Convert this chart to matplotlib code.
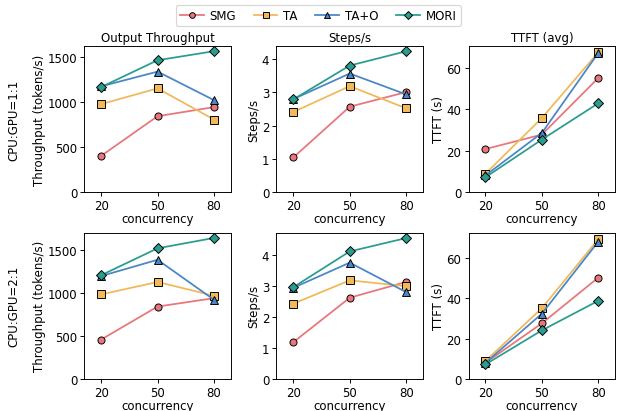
import matplotlib
matplotlib.use("Agg")
import matplotlib.pyplot as plt

concurrency = [20, 50, 80]
methods = ["SMG", "TA", "TA+O", "MORI"]
colors = ["#e8767a", "#f0b95a", "#4a86c8", "#2a9d8f"]
markers = ["o", "s", "^", "D"]

row_labels = ["CPU:GPU=1:1", "CPU:GPU=2:1"]
col_titles = ["Output Throughput", "Steps/s", "TTFT (avg)"]
y_labels = ["Throughput (tokens/s)", "Steps/s", "TTFT (s)"]

# row 1: CPU:GPU=1:1
thr_11 = {"SMG": [400, 839, 940], "TA": [973, 1147, 802],
          "TA+O": [1170, 1333, 1017], "MORI": [1162, 1459, 1559]}
steps_11 = {"SMG": [1.04, 2.57, 3.01], "TA": [2.41, 3.19, 2.52],
            "TA+O": [2.80, 3.57, 2.94], "MORI": [2.79, 3.81, 4.24]}
ttft_11 = {"SMG": [20.7, 27.7, 55.0], "TA": [8.8, 35.7, 67.4],
           "TA+O": [8.0, 28.5, 67.1], "MORI": [7.1, 25.3, 42.8]}

# row 2: CPU:GPU=2:1
thr_21 = {"SMG": [459, 844, 942], "TA": [986, 1131, 970],
          "TA+O": [1200, 1390, 923], "MORI": [1210, 1524, 1645]}
steps_21 = {"SMG": [1.18, 2.61, 3.12], "TA": [2.42, 3.17, 2.98],
            "TA+O": [2.93, 3.74, 2.79], "MORI": [2.95, 4.10, 4.53]}
ttft_21 = {"SMG": [8.0, 27.6, 50.3], "TA": [8.9, 35.1, 69.4],
           "TA+O": [8.0, 32.4, 68.2], "MORI": [7.2, 24.1, 38.8]}

data = [[thr_11, steps_11, ttft_11], [thr_21, steps_21, ttft_21]]

DPI = 85
plt.rcParams["xtick.major.pad"] = 2.5
plt.rcParams["ytick.major.pad"] = 2.5
fig, axes = plt.subplots(2, 3, figsize=(624 / DPI, 412 / DPI), dpi=DPI)
fig.subplots_adjust(left=0.135, right=0.986, top=0.886, bottom=0.078,
                    wspace=0.31, hspace=0.28)

for r in range(2):
    for c in range(3):
        ax = axes[r, c]
        for m, col, mk in zip(methods, colors, markers):
            ax.plot(concurrency, data[r][c][m], color=col, marker=mk,
                    markersize=6 if mk != "D" else 5.5, markeredgecolor="black",
                    markeredgewidth=0.8, linewidth=1.5, label=m)
        ax.set_xticks(concurrency)
        ax.set_xlim(11, 89)
        ax.set_ylim(bottom=0)
        ax.set_ylabel(y_labels[c], labelpad=1)
        ax.set_xlabel("concurrency", labelpad=0)
        if r == 0:
            ax.set_title(col_titles[c], fontsize=10, pad=4)
    pos = axes[r, 0].get_position()
    fig.text(0.022, (pos.y0 + pos.y1) / 2, row_labels[r], rotation=90,
             ha="center", va="center", fontsize=10)

handles, labels = axes[0, 0].get_legend_handles_labels()
fig.legend(handles, labels, loc="upper center", ncol=4,
           bbox_to_anchor=(0.51, 1.0), frameon=True, markerscale=0.8,
           handletextpad=0.5, columnspacing=1.5, borderpad=0.35)

fig.savefig("out.png", dpi=DPI)
